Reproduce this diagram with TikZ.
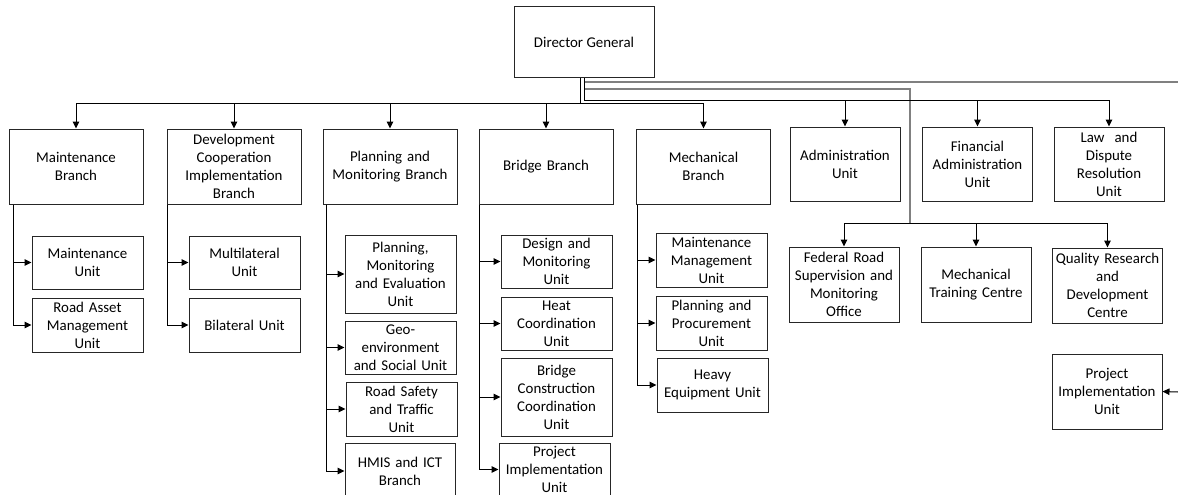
\documentclass[tikz,border=0pt]{standalone}
\usepackage{fontspec}
\setmainfont{Carlito}
\usetikzlibrary{arrows.meta}

\begin{document}
\begin{tikzpicture}[x=1pt, y=-1pt,
    box/.style={draw=black!85, line width=1pt, align=center, inner sep=0pt,
      font=\fontsize{14.9}{18}\selectfont},
    branch/.style={box, minimum width=134pt, minimum height=75pt, text width=128pt},
    office/.style={box, minimum width=110pt, minimum height=75pt, text width=106pt},
    unit/.style={box, minimum width=111pt, minimum height=54pt, text width=107pt},
    link/.style={line width=1pt},
    feed/.style={link, -{Triangle[length=7pt,width=6.5pt]}},
    grayline/.style={line width=1.2pt, black!50}]

      \useasboundingbox (0,0) rectangle (1178,495);

      \node [box, minimum width=140pt, minimum height=71pt] (dg) at (584,42.5) {Director General};

      \node [branch] (maint)  at (76,166.5)    {Maintenance\\Branch};
      \node [branch] (dev)    at (234,166.5)   {Development\\Cooperation\\Implementation\\Branch};
      \node [branch] (plan)   at (390,166.5)   {Planning and\\Monitoring Branch};
      \node [branch] (bridge) at (546,166.5)   {Bridge Branch};
      \node [branch] (mech)   at (703.5,166.5) {Mechanical\\Branch};

      \node [office, minimum height=74pt] (admin) at (845,164)    {Administration\\Unit};
      \node [office, minimum height=74pt] (fin)   at (977.5,164)  {Financial\\Administration\\Unit};
      \node [office, minimum height=74pt] (law)   at (1109,164)   {Law~ and\\Dispute\\Resolution\\Unit};

      \node [office] (fed) at (844,284.5)    {Federal Road\\Supervision and\\Monitoring\\Office};
      \node [office] (mtc) at (976,284.5)    {Mechanical\\Training Centre};
      \node [office] (qrd) at (1107.5,285.5) {Quality Research\\and\\Development\\Centre};
      \node [office] (piu) at (1107,391.5)   {Project\\Implementation\\Unit};

      \node [unit, minimum height=53pt] (mu)  at (87.5,262.5) {Maintenance\\Unit};
      \node [unit] (ram) at (87.5,325)   {Road Asset\\Management\\Unit};
      \node [unit, minimum height=53pt] (multi) at (244.5,262.5) {Multilateral\\Unit};
      \node [unit] (bilat) at (244.5,325) {Bilateral Unit};

      \node [unit, minimum height=78pt] (pme) at (400.5,274)   {Planning,\\Monitoring\\and Evaluation\\Unit};
      \node [unit, minimum height=53pt] (geo) at (400.5,347.5) {Geo-\\environment\\and Social Unit};
      \node [unit] (rst) at (401.5,409) {Road Safety\\and Traffic\\Unit};
      \node [unit, minimum width=110pt, minimum height=56pt] (hmis) at (400,471) {HMIS and ICT\\Branch};

      \node [unit, minimum height=53pt] (design) at (556.5,261.5) {Design and\\Monitoring\\Unit};
      \node [unit, minimum height=53pt] (heat)   at (556.5,323.5) {Heat\\Coordination\\Unit};
      \node [unit, minimum height=78pt] (bcc)    at (556.5,397)   {Bridge\\Construction\\Coordination\\Unit};
      \node [unit, minimum height=53pt] (bpiu)   at (554.5,469.5) {Project\\Implementation\\Unit};

      \node [unit] (mmu) at (711.5,260) {Maintenance\\Management\\Unit};
      \node [unit] (ppu) at (711.5,323) {Planning and\\Procurement\\Unit};
      \node [unit] (heu) at (712.5,385) {Heavy\\Equipment Unit};

      \coordinate (lbus) at (0,103);
      \coordinate (rbus) at (0,100);
      \coordinate (gtop) at (0,82);
      \coordinate (gedge) at (1178,82);
      \coordinate (gmid) at (910,89);
      \coordinate (obus) at (910,223);
      \coordinate (pin) at (1178,392);

      \draw [grayline] (dg.south |- gtop) -- (gedge);
      \draw [grayline] (dg.south |- gmid) -- (gmid) -- (obus);

      \draw [link] ([xshift=-4pt]dg.south) -- ([xshift=-4pt]dg.south |- lbus);
      \draw [link] (maint.north |- lbus) -- (mech.north |- lbus);
      \foreach \n in {maint,dev,plan,bridge,mech}
        \draw [feed] (\n.north |- lbus) -- (\n.north);

      \draw [link] (dg.south) -- (dg.south |- rbus) -- (law.north |- rbus);
      \foreach \n in {admin,fin,law}
        \draw [feed] (\n.north |- rbus) -- (\n.north);

      \draw [link] (fed.north |- obus) -- (qrd.north |- obus);
      \foreach \n in {fed,mtc,qrd}
        \draw [feed] (\n.north |- obus) -- (\n.north);

      \draw [feed] (pin) -- (piu.east);

      \foreach \n in {mu,ram}
        \draw [feed] ([xshift=5pt]maint.south west) |- (\n.west);
      \foreach \n in {multi,bilat}
        \draw [feed] ([xshift=1pt]dev.south west) |- (\n.west);
      \foreach \n in {pme,geo,rst,hmis}
        \draw [feed] ([xshift=4pt]plan.south west) |- (\n.west);
      \foreach \n in {design,heat,bcc,bpiu}
        \draw [feed] ([xshift=1pt]bridge.south west) |- (\n.west);
      \foreach \n in {mmu,ppu,heu}
        \draw [feed] ([xshift=1pt]mech.south west) |- (\n.west);

    \end{tikzpicture}
\end{document}
